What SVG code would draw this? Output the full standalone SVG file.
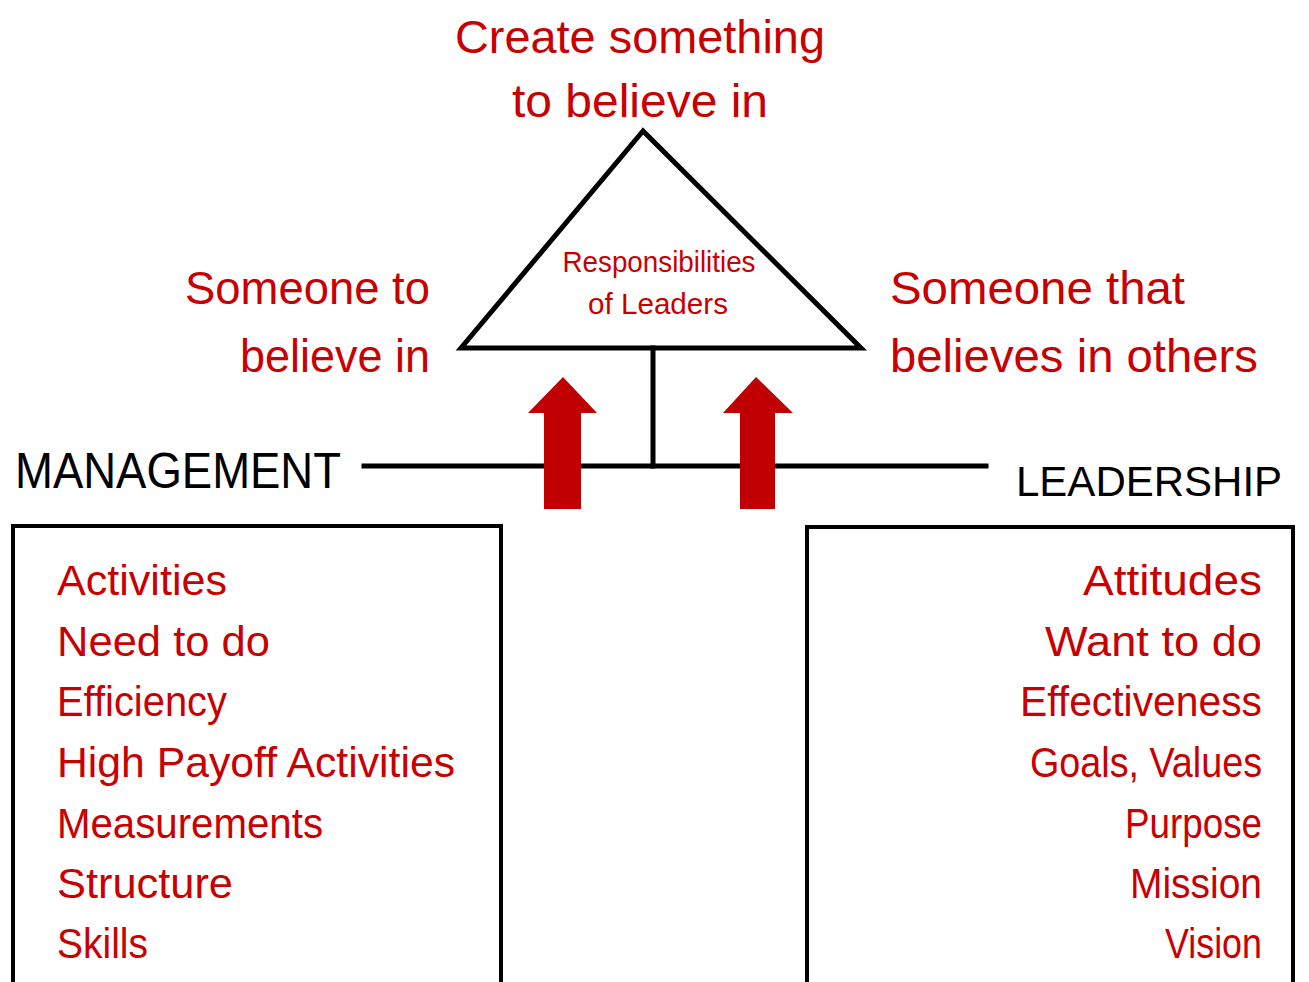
<svg xmlns="http://www.w3.org/2000/svg" width="1309" height="982" viewBox="0 0 1309 982">
<style>
.red{fill:#c80000;font-family:"Liberation Sans","DejaVu Sans",sans-serif;}
.blk{fill:#000;font-family:"Liberation Sans","DejaVu Sans",sans-serif;}
.ln{stroke:#000;fill:none;stroke-linecap:square;}
.arr{fill:#c00000;}
</style>
<rect width="1309" height="982" fill="#fff"/>
<g id="title">
<text class="red" x="640" y="53" font-size="46" text-anchor="middle" textLength="370" lengthAdjust="spacingAndGlyphs">Create something</text>
<text class="red" x="640" y="117" font-size="46" text-anchor="middle" textLength="256" lengthAdjust="spacingAndGlyphs">to believe in</text>
</g>
<g id="triangle">
<polygon class="ln" points="643,131 461,348 861,348" stroke-width="5" stroke-linejoin="miter"/>
<text class="red" x="659" y="272" font-size="29" text-anchor="middle" textLength="193" lengthAdjust="spacingAndGlyphs">Responsibilities</text>
<text class="red" x="658" y="314" font-size="29" text-anchor="middle" textLength="140" lengthAdjust="spacingAndGlyphs">of Leaders</text>
</g>
<g id="someone-left">
<text class="red" x="430" y="304" font-size="46" text-anchor="end" textLength="245" lengthAdjust="spacingAndGlyphs">Someone to</text>
<text class="red" x="430" y="372" font-size="46" text-anchor="end" textLength="190" lengthAdjust="spacingAndGlyphs">believe in</text>
</g>
<g id="someone-right">
<text class="red" x="890" y="304" font-size="46" textLength="295" lengthAdjust="spacingAndGlyphs">Someone that</text>
<text class="red" x="890" y="372" font-size="46" textLength="368" lengthAdjust="spacingAndGlyphs">believes in others</text>
</g>
<g id="connectors">
<line class="ln" x1="653" y1="348" x2="653" y2="466" stroke-width="5"/>
<line class="ln" x1="364" y1="466" x2="986" y2="466" stroke-width="5"/>
</g>
<g id="arrows">
<polygon class="arr" points="563,377 597,413 581,413 581,509 544,509 544,413 528,413"/>
<polygon class="arr" points="756,377 793,413 775,413 775,509 740,509 740,413 723,413"/>
</g>
<g id="management">
<text class="blk" x="15" y="488" font-size="50" textLength="326" lengthAdjust="spacingAndGlyphs">MANAGEMENT</text>
<rect class="ln" x="13" y="526" width="488" height="470" stroke-width="4"/>
<text class="red" x="57" y="595" font-size="42" textLength="170" lengthAdjust="spacingAndGlyphs">Activities</text>
<text class="red" x="57" y="656" font-size="42" textLength="213" lengthAdjust="spacingAndGlyphs">Need to do</text>
<text class="red" x="57" y="716" font-size="42" textLength="170" lengthAdjust="spacingAndGlyphs">Efficiency</text>
<text class="red" x="57" y="777" font-size="42" textLength="398" lengthAdjust="spacingAndGlyphs">High Payoff Activities</text>
<text class="red" x="57" y="838" font-size="42" textLength="266" lengthAdjust="spacingAndGlyphs">Measurements</text>
<text class="red" x="57" y="898" font-size="42" textLength="176" lengthAdjust="spacingAndGlyphs">Structure</text>
<text class="red" x="57" y="958" font-size="42" textLength="91" lengthAdjust="spacingAndGlyphs">Skills</text>
</g>
<g id="leadership">
<text class="blk" x="1016" y="496" font-size="42">LEADERSHIP</text>
<rect class="ln" x="807" y="527" width="486" height="470" stroke-width="4"/>
<text class="red" x="1262" y="595" font-size="42" text-anchor="end" textLength="179" lengthAdjust="spacingAndGlyphs">Attitudes</text>
<text class="red" x="1262" y="656" font-size="42" text-anchor="end" textLength="217" lengthAdjust="spacingAndGlyphs">Want to do</text>
<text class="red" x="1262" y="716" font-size="42" text-anchor="end" textLength="242" lengthAdjust="spacingAndGlyphs">Effectiveness</text>
<text class="red" x="1262" y="777" font-size="42" text-anchor="end" textLength="232" lengthAdjust="spacingAndGlyphs">Goals, Values</text>
<text class="red" x="1262" y="838" font-size="42" text-anchor="end" textLength="137" lengthAdjust="spacingAndGlyphs">Purpose</text>
<text class="red" x="1262" y="898" font-size="42" text-anchor="end" textLength="132" lengthAdjust="spacingAndGlyphs">Mission</text>
<text class="red" x="1262" y="958" font-size="42" text-anchor="end" textLength="97" lengthAdjust="spacingAndGlyphs">Vision</text>
</g>
</svg>
